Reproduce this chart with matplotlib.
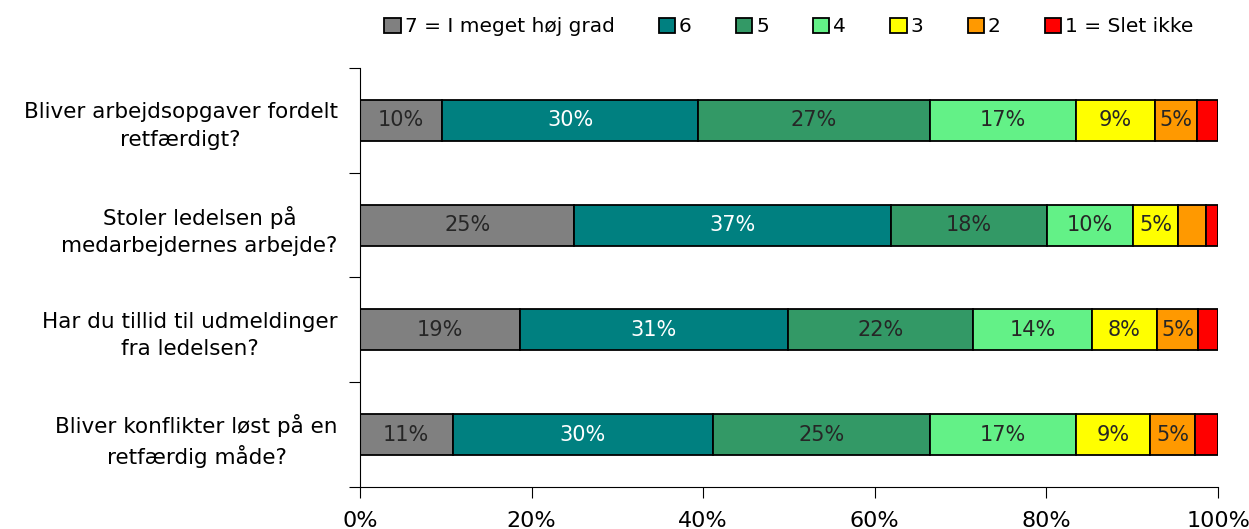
import numpy as np
import matplotlib.pyplot as plt

questions = ['Bliver arbejdsopgaver fordelt\nretfærdigt?',
             'Stoler ledelsen på\nmedarbejdernes arbejde?',
             'Har du tillid til udmeldinger\nfra ledelsen?',
             'Bliver konflikter løst på en\nretfærdig måde?']
levels = ['7 = I meget høj grad', '6', '5', '4', '3', '2', '1 = Slet ikke']
colors = ['#808080', '#008080', '#339966', '#63F187', '#FFFF00', '#FF9900', '#FF0000']
txt_colors = ['#262626', 'white', '#262626', '#262626', '#262626', '#262626', '#262626']

# percent per level (7 ... 1), one row per question
q1 = [9.6, 29.8, 27.0, 17.1, 9.1, 5.0, 2.4]
q2 = [25.0, 36.9, 18.2, 10.0, 5.2, 3.3, 1.4]
q3 = [18.6, 31.3, 21.6, 13.8, 7.6, 4.8, 2.3]
q4 = [10.8, 30.3, 25.3, 17.1, 8.6, 5.2, 2.7]

data = np.array([q1, q2, q3, q4])

fig = plt.figure(figsize=(12.49, 5.29), dpi=100)
ax = fig.add_axes([0.2882, 0.0794, 0.9752 - 0.2882, 0.8715 - 0.0794])

y = np.arange(len(questions))
left = np.zeros(len(questions))
for j in range(len(levels)):
    ax.barh(y, data[:, j], left=left, height=0.39, color=colors[j],
            edgecolor='black', linewidth=1.3, label=levels[j])
    for i in range(len(questions)):
        v = data[i, j]
        if v >= 4.5:
            ax.text(left[i] + v / 2, y[i], '%d%%' % round(v), ha='center', va='center',
                    fontsize=15, color=txt_colors[j])
    left += data[:, j]

ax.set_xlim(0, 100)
ax.set_ylim(len(questions) - 0.5, -0.5)
ax.set_xticks(np.arange(0, 101, 20))
ax.set_xticklabels(['%d%%' % v for v in range(0, 101, 20)], fontsize=16)
ax.set_yticks(y)
ax.set_yticklabels(questions, fontsize=15.5, multialignment='center', linespacing=1.45)
ax.set_yticks(np.arange(-0.5, len(questions)), minor=True)
ax.tick_params(axis='y', which='major', length=0, pad=16)
ax.tick_params(axis='y', which='minor', length=8, width=0.8, direction='out')
ax.tick_params(axis='x', length=8, width=0.8, pad=9)
for s in ['top', 'right']:
    ax.spines[s].set_visible(False)
for s in ['left', 'bottom']:
    ax.spines[s].set_linewidth(0.8)

ax.legend(loc='center', bbox_to_anchor=(0.5, 1.098), ncol=7, frameon=False,
          fontsize=14.5, handlelength=0.8, handleheight=0.8, handletextpad=0.2,
          columnspacing=2.2)

fig.savefig('out.png', dpi=100)
